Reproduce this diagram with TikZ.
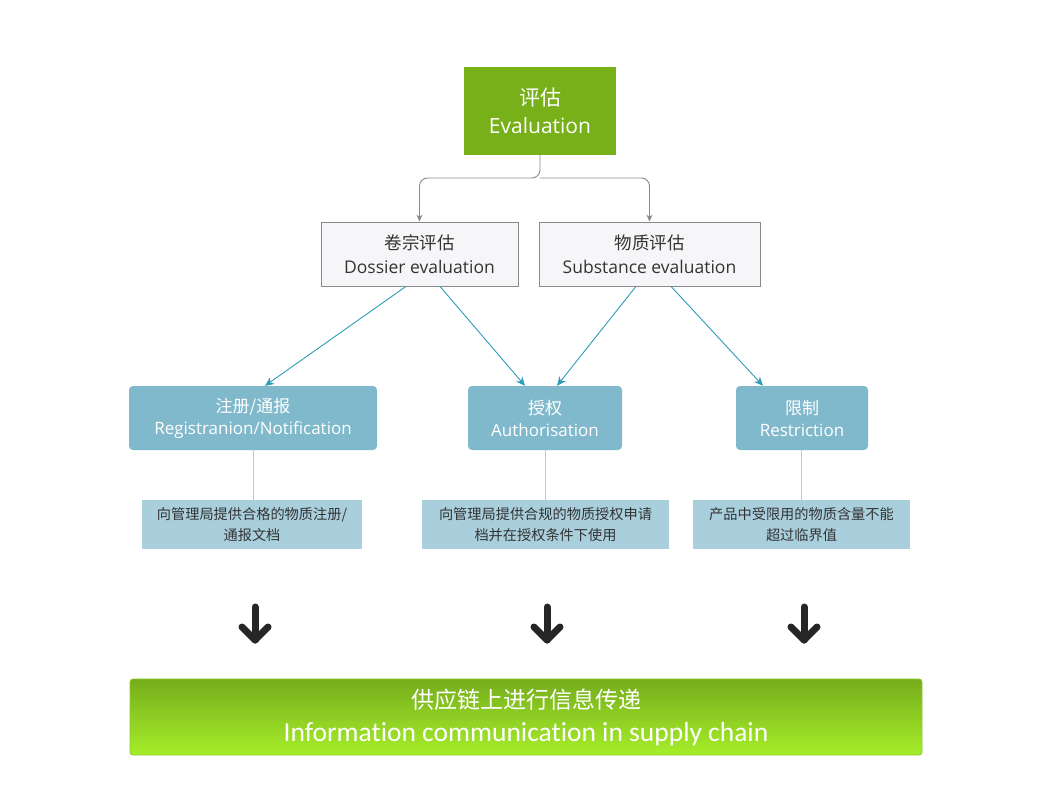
\documentclass[tikz,border=0pt]{standalone}
\usepackage{fontspec}
\setmainfont{Open Sans}
\newfontfamily\cjk{Noto Sans CJK SC}
\newfontfamily\carl[Ligatures=NoCommon]{Carlito}
\usetikzlibrary{arrows.meta}
\definecolor{evgreen}{HTML}{78B01A}
\definecolor{boxfill}{HTML}{F6F6F8}
\definecolor{boxline}{HTML}{8A8A8A}
\definecolor{tealbox}{HTML}{80B9CC}
\definecolor{tealarrow}{HTML}{2F9DBA}
\definecolor{lightbox}{HTML}{A9CFDD}
\definecolor{lightline}{HTML}{A9D0E0}
\definecolor{darktext}{HTML}{333333}
\definecolor{bartop}{HTML}{76AD1C}
\definecolor{barbot}{HTML}{A6EE2A}
\definecolor{barline}{HTML}{8CCB2A}
\tikzset{
  evalbox/.style={fill=evgreen, text=white, minimum width=152pt, minimum height=88pt,
    align=center, inner sep=0pt, font=\fontsize{21}{28}\selectfont},
  assessbox/.style={fill=boxfill, draw=boxline, line width=0.8pt, text=darktext, minimum height=64pt,
    align=center, inner sep=0pt, font=\fontsize{17.5}{24}\selectfont},
  tealnode/.style={fill=tealbox, rounded corners=4pt, text=white, minimum height=64pt,
    align=center, inner sep=0pt, font=\fontsize{17}{22}\selectfont},
  notebox/.style={fill=lightbox, text=darktext, minimum height=49pt,
    align=center, inner sep=0pt, font=\fontsize{14.2}{21}\selectfont},
  barbox/.style={top color=bartop, bottom color=barbot, draw=barline, line width=0.8pt,
    rounded corners=3pt, text=white, minimum width=792pt, minimum height=76pt,
    align=center, inner sep=0pt, font=\fontsize{23}{33}\selectfont},
  grayconn/.style={draw=boxline, line width=0.9pt, rounded corners=8pt,
    -{Stealth[length=7pt,width=6pt]}},
  tealconn/.style={draw=tealarrow, line width=0.9pt, -{Stealth[length=9pt,width=8pt]}},
  noteconn/.style={draw=lightline, line width=1pt},
  bigarrow/.style={draw=black!85, line width=7pt, line cap=round, line join=round}
}
\begin{document}
\begin{tikzpicture}[x=1pt,y=-1pt]
\useasboundingbox[fill=white] (0,0) rectangle (1060,789);

\node[evalbox] (eval) at (540,111) {{\cjk 评估}\\Evaluation};

\node[assessbox, minimum width=197pt] (dossier) at (419.5,254) {{\cjk 卷宗评估}\\Dossier evaluation};
\node[assessbox, minimum width=221pt] (subst) at (649.5,254) {{\cjk 物质评估}\\Substance evaluation};

\coordinate (split) at (540,178);
\draw[grayconn] (eval.south) -- (split) -| (dossier.north);
\draw[grayconn] (split) -| (subst.north);

\node[tealnode, minimum width=248pt] (reg) at (253,418) {{\cjk 注册/通报}\\Registranion/Notification};
\node[tealnode, minimum width=154pt] (auth) at (545,418) {{\cjk 授权}\\Authorisation};
\node[tealnode, minimum width=132pt] (restr) at (802,418) {{\cjk 限制}\\Restriction};

\draw[tealconn] ([xshift=-13.5pt]dossier.south) -- ([xshift=12pt]reg.north);
\draw[tealconn] ([xshift=20.5pt]dossier.south) -- ([xshift=-20pt]auth.north);
\draw[tealconn] ([xshift=-13.5pt]subst.south) -- ([xshift=12pt]auth.north);
\draw[tealconn] ([xshift=21.5pt]subst.south) -- ([xshift=-39pt]restr.north);

\node[notebox, minimum width=220pt] (regnote) at (252,524.5) {\cjk 向管理局提供合格的物质注册/\\\cjk 通报文档};
\node[notebox, minimum width=247pt] (authnote) at (545.5,524.5) {\cjk 向管理局提供合规的物质授权申请\\\cjk 档并在授权条件下使用};
\node[notebox, minimum width=217pt] (restrnote) at (801.5,524.5) {\cjk 产品中受限用的物质含量不能\\\cjk 超过临界值};

\draw[noteconn] (reg.south) -- (reg.south |- regnote.north);
\draw[noteconn] (auth.south) -- (auth.south |- authnote.north);
\draw[noteconn] ([xshift=-1pt]restr.south) -- ([xshift=-1pt]restr.south |- restrnote.north);

\foreach \n/\x in {a1/255, a2/547, a3/804} {
  \coordinate (\n top) at (\x,607);
  \coordinate (\n tip) at (\x,640);
  \draw[bigarrow] (\n top) -- (\n tip);
  \draw[bigarrow] ([xshift=-13pt,yshift=13pt]\n tip) -- (\n tip) -- ([xshift=13pt,yshift=13pt]\n tip);
}

\node[barbox] (bar) at (526,717) {{\cjk\fontsize{23}{33}\selectfont 供应链上进行信息传递}\\{\carl\fontsize{27.5}{33}\selectfont Information communication in supply chain}};
\end{tikzpicture}
\end{document}
